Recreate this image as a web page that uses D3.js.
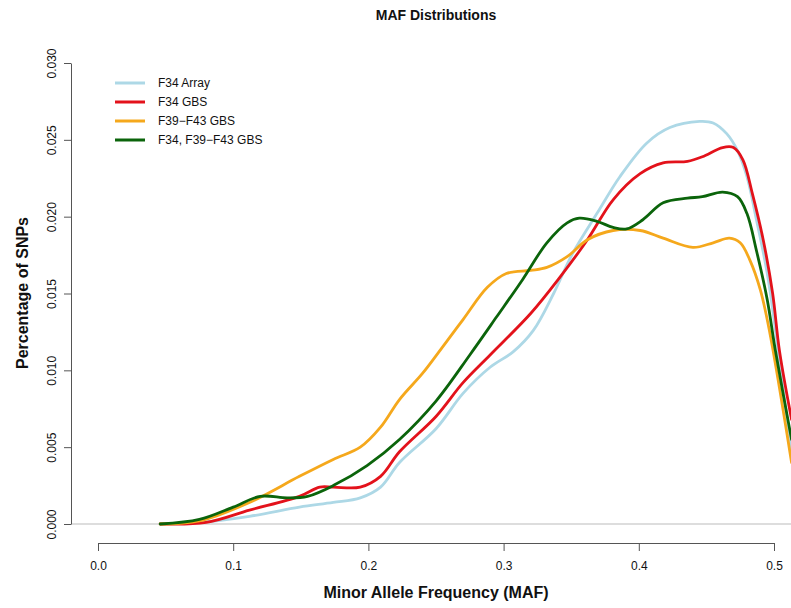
<!DOCTYPE html>
<html>
<head>
<meta charset="utf-8">
<script src="https://cdn.jsdelivr.net/npm/d3@7"></script>
<style>
  body { margin: 0; background: white; }
  text { font-family: "Liberation Sans", Arial, sans-serif; fill: #111; }
</style>
</head>
<body>
<div class="chart"></div>
<script>
// data: [MAF, density share]
const f34Array = [
  [0.046, 0], [0.075, 0.0001], [0.112, 0.0005], [0.149, 0.0011], [0.174, 0.0014],
  [0.194, 0.0017], [0.209, 0.0024], [0.223, 0.0040], [0.25, 0.0062], [0.27, 0.0085],
  [0.29, 0.0102], [0.307, 0.0112], [0.322, 0.0126], [0.337, 0.0150], [0.351, 0.0176],
  [0.369, 0.0202], [0.386, 0.0226], [0.406, 0.0248], [0.423, 0.0258], [0.445, 0.0262],
  [0.455, 0.0261], [0.465, 0.0254], [0.473, 0.0243], [0.480, 0.0226], [0.487, 0.0198],
  [0.495, 0.0163], [0.502, 0.0120], [0.513, 0.0045]
];
const f34Gbs = [
  [0.046, 0], [0.08, 0.0001], [0.112, 0.0009], [0.149, 0.0018], [0.164, 0.0024],
  [0.174, 0.0024], [0.194, 0.0024], [0.209, 0.0031], [0.223, 0.0047], [0.25, 0.0070],
  [0.27, 0.0092], [0.29, 0.0110], [0.320, 0.0137], [0.342, 0.0161], [0.362, 0.0185],
  [0.381, 0.0211], [0.401, 0.0228], [0.418, 0.0235], [0.436, 0.0236], [0.447, 0.0239],
  [0.462, 0.0245], [0.470, 0.0245], [0.477, 0.0237], [0.484, 0.0215], [0.492, 0.0185],
  [0.499, 0.0150], [0.504, 0.0113], [0.513, 0.0068]
];
const f39f43Gbs = [
  [0.046, 0], [0.075, 0.0002], [0.112, 0.0014], [0.149, 0.0031], [0.174, 0.0042],
  [0.194, 0.0050], [0.209, 0.0063], [0.223, 0.0081], [0.24, 0.0098], [0.253, 0.0113],
  [0.270, 0.0133], [0.288, 0.0154], [0.302, 0.0163], [0.320, 0.0165], [0.332, 0.0167],
  [0.347, 0.0174], [0.362, 0.0185], [0.381, 0.0191], [0.401, 0.0191], [0.418, 0.0186],
  [0.440, 0.0180], [0.455, 0.0183], [0.467, 0.0186], [0.475, 0.0183], [0.482, 0.0172],
  [0.490, 0.0152], [0.497, 0.0124], [0.513, 0.0040]
];
const f34f39f43Gbs = [
  [0.046, 0], [0.075, 0.0003], [0.1, 0.0011], [0.12, 0.0018], [0.14, 0.0017],
  [0.155, 0.0018], [0.174, 0.0025], [0.199, 0.0038], [0.223, 0.0055], [0.25, 0.0080],
  [0.275, 0.0110], [0.295, 0.0135], [0.314, 0.0159], [0.332, 0.0183], [0.347, 0.0196],
  [0.356, 0.0199], [0.369, 0.0197], [0.381, 0.0193], [0.391, 0.0192], [0.403, 0.0198],
  [0.418, 0.0209], [0.436, 0.0212], [0.447, 0.0213], [0.462, 0.0216], [0.473, 0.0213],
  [0.480, 0.0202], [0.487, 0.0178], [0.495, 0.0146], [0.501, 0.0113], [0.513, 0.0055]
];

const seriesNames = ["F34 Array", "F34 GBS", "F39\u2212F43 GBS", "F34, F39\u2212F43 GBS"];
const seriesColors = ["#add8e6", "#e3121b", "#f5a81c", "#0b640b"];
const seriesData = [f34Array, f34Gbs, f39f43Gbs, f34f39f43Gbs];

const xTicks = [0, 0.1, 0.2, 0.3, 0.4, 0.5];
const yTicks = [0, 0.005, 0.01, 0.015, 0.02, 0.025, 0.03];

const W = 791, H = 608;

const svg = d3.select(".chart").append("svg")
    .attr("width", W)
    .attr("height", H);

// scales (plot region runs past the right edge of the picture)
const x = d3.scaleLinear().domain([0, 0.5]).range([98, 774]);
const y = d3.scaleLinear().domain([0, 0.03]).range([524, 63]);

// title
svg.append("text")
    .attr("x", 436)
    .attr("y", 20)
    .attr("text-anchor", "middle")
    .attr("font-weight", "bold")
    .attr("font-size", 14)
    .text("MAF Distributions");

// zero line
svg.append("line")
    .attr("x1", 71).attr("x2", W)
    .attr("y1", y(0)).attr("y2", y(0))
    .attr("stroke", "#bbb")
    .attr("stroke-width", 1);

// y axis
const yAxis = d3.axisLeft(y)
    .tickValues(yTicks)
    .tickFormat(d3.format(".3f"))
    .tickSize(7)
    .tickSizeOuter(0);

svg.append("g")
    .attr("class", "axis y-axis")
    .attr("transform", "translate(71,0)")
    .call(yAxis)
    .call(g => g.selectAll("line, path").attr("stroke", "#555"))
    .call(g => g.selectAll(".tick text")
        .attr("font-size", 12)
        .attr("font-family", "Liberation Sans, Arial, sans-serif")
        .attr("fill", "#222")
        .attr("x", null)
        .attr("text-anchor", "middle")
        .attr("transform", "translate(-19,0) rotate(-90)")
        .attr("dy", "0.35em"));

// x axis
const xAxis = d3.axisBottom(x)
    .tickValues(xTicks)
    .tickFormat(d3.format(".1f"))
    .tickSize(8)
    .tickSizeOuter(0);

svg.append("g")
    .attr("class", "axis x-axis")
    .attr("transform", "translate(0,543)")
    .call(xAxis)
    .call(g => g.selectAll("line, path").attr("stroke", "#555"))
    .call(g => g.selectAll(".tick text")
        .attr("font-size", 12)
        .attr("font-family", "Liberation Sans, Arial, sans-serif")
        .attr("fill", "#222")
        .attr("y", 23)
        .attr("dy", "0.35em"));

// axis titles
svg.append("text")
    .attr("x", 436)
    .attr("y", 598)
    .attr("text-anchor", "middle")
    .attr("font-weight", "bold")
    .attr("font-size", 16)
    .text("Minor Allele Frequency (MAF)");

svg.append("text")
    .attr("transform", "translate(22,293) rotate(-90)")
    .attr("dy", "0.35em")
    .attr("text-anchor", "middle")
    .attr("font-weight", "bold")
    .attr("font-size", 16)
    .text("Percentage of SNPs");

// the density lines
const line = d3.line()
    .curve(d3.curveCatmullRom.alpha(0.5))
    .x(d => x(d[0]))
    .y(d => y(d[1]));

svg.append("g")
    .selectAll("path")
    .data(seriesData)
    .join("path")
    .attr("fill", "none")
    .attr("stroke", (d, i) => seriesColors[i])
    .attr("stroke-width", 2.8)
    .attr("stroke-linejoin", "round")
    .attr("stroke-linecap", "round")
    .attr("d", line);

// legend
const legend = svg.append("g")
    .selectAll("g")
    .data(seriesNames)
    .join("g")
    .attr("transform", (d, i) => `translate(115, ${83 + i * 19})`);

legend.append("line")
    .attr("x1", 0).attr("x2", 30)
    .attr("stroke", (d, i) => seriesColors[i])
    .attr("stroke-width", 3);

legend.append("text")
    .attr("x", 43)
    .attr("dy", "0.35em")
    .attr("font-size", 12)
    .text(d => d);
</script>
</body>
</html>
